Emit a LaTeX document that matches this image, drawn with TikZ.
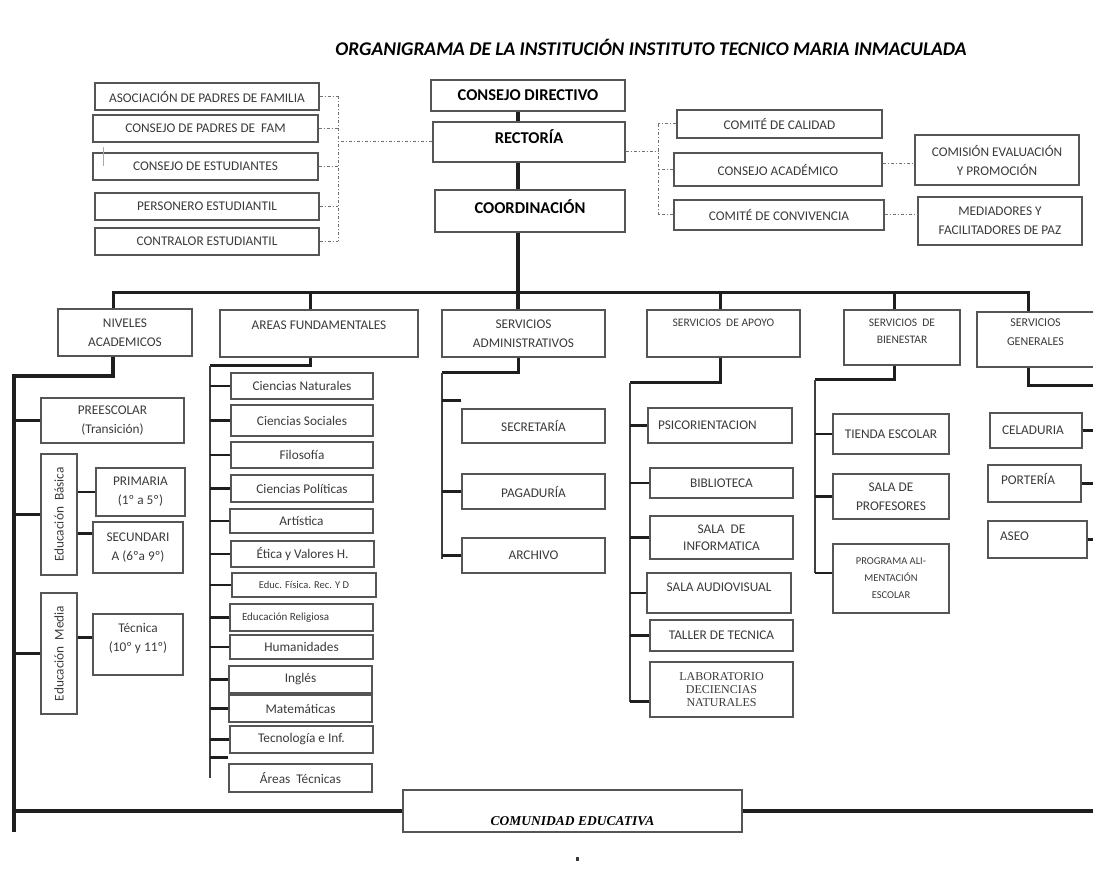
\documentclass[tikz,border=0pt]{standalone}
\usepackage{fontspec}
\setmainfont{Carlito}
\newfontfamily\oldserif{Liberation Serif}
\usepackage{xcolor}
\definecolor{InkGray}{HTML}{3A3A3A}
\definecolor{FrameGray}{HTML}{555555}
\definecolor{LineBlack}{HTML}{1E1E1E}
\usepackage{tikz}
\newcommand{\setsz}[2]{\fontsize{#1}{#2}\selectfont}
% box from its corners (x1,y1) (x2,y2)
\newcommand{\orgnode}[7][]{%
	\node[orgbox,#1,minimum width={(#5)-(#3)},minimum height={(#6)-(#4)}] (#2) at ({((#3)+(#5))/2},{((#4)+(#6))/2}) {#7};}
\tikzset{
	orgbox/.style={draw=FrameGray,line width=1.3pt,rectangle,inner sep=1pt,align=center,text=InkGray,font=\setsz{13.3}{19}},
	headbox/.style={font=\setsz{16.5}{19}\bfseries,text=black},
	mainline/.style={LineBlack,line width=3.5pt},
	bus/.style={LineBlack,line width=3pt},
	trunkline/.style={LineBlack,line width=3.8pt},
	stubline/.style={LineBlack,line width=2.4pt},
	thinline/.style={LineBlack!85,line width=1.4pt},
	linkline/.style={gray!90!black,line width=1pt,dash pattern=on 3pt off 2pt on 1pt off 2pt},
	floorline/.style={LineBlack,line width=4.5pt}
}

\begin{document}
\begin{tikzpicture}[x=1pt,y=-1pt]
	\useasboundingbox (0,0) rectangle (1093,882);
	
	\node[font=\setsz{19.4}{22}\bfseries\itshape,text=black] (title) at (651,47) {ORGANIGRAMA DE LA INSTITUCIÓN INSTITUTO TECNICO MARIA INMACULADA};
	
	% direccion
	\orgnode[headbox]{cd}{431}{80}{625}{111}{CONSEJO DIRECTIVO}
	\orgnode[headbox]{rect}{433}{122}{625}{162}{\raisebox{10pt}{RECTORÍA}}
	\orgnode[headbox]{coord}{435}{190}{625}{232}{\raisebox{8pt}{COORDINACIÓN}}
	\draw[mainline] ([xshift=-10pt]cd.south) -- ([xshift=-11pt]rect.north);
	\draw[mainline] ([xshift=-11pt]rect.south) -- ([xshift=-12pt]coord.north);
	
	% organos de participacion
	\orgnode{asoc}{95}{83}{319}{110}{ASOCIACIÓN DE PADRES DE FAMILIA}
	\orgnode{cpf}{93}{115}{318}{142}{CONSEJO DE PADRES DE\ \ FAM}
	\orgnode{cest}{93}{153}{318}{180}{CONSEJO DE ESTUDIANTES}
	\orgnode{pers}{95}{193}{319}{220}{PERSONERO ESTUDIANTIL}
	\orgnode{contr}{95}{228}{319}{255}{CONTRALOR ESTUDIANTIL}
	\draw[FrameGray!50,line width=0.8pt] ([xshift=11pt,yshift=5pt]cest.north west) -- ++(0,19);
	\coordinate (lv) at (338,142);
	\foreach \n in {asoc,cpf,cest,pers,contr}
		\draw[linkline] (\n.east) -- (\n.east -| lv);
	\draw[linkline] (asoc.east -| lv) -- (contr.east -| lv);
	\draw[linkline] (rect.west) -- (lv);
	
	% comites
	\orgnode{cal}{677}{110}{882}{138}{COMITÉ DE CALIDAD}
	\orgnode{acad}{674}{153}{882}{186}{CONSEJO ACADÉMICO}
	\orgnode{conv}{674}{200}{884}{230}{COMITÉ DE CONVIVENCIA}
	\orgnode{comi}{915}{135}{1079}{185}{COMISIÓN EVALUACIÓN\\Y PROMOCIÓN}
	\orgnode{med}{918}{197}{1082}{245}{MEDIADORES Y\\FACILITADORES DE PAZ}
	\coordinate (rv) at (658,152);
	\draw[linkline] ([yshift=-10pt]rect.east) -- (rv);
	\foreach \n in {cal,acad,conv}
		\draw[linkline] (\n.west) -- (\n.west -| rv);
	\draw[linkline] (cal.west -| rv) -- (conv.west -| rv);
	\draw[linkline] ([yshift=6pt]acad.east) -- ([yshift=6pt]acad.east -| comi.west);
	\draw[linkline] (conv.east) -- (conv.east -| med.west);
	
	% segundo nivel
	\orgnode{niv}{58}{309}{192}{356}{NIVELES\\ACADEMICOS}
	\orgnode{areas}{220}{310}{418}{357}{AREAS FUNDAMENTALES\\[-2pt]\mbox{}}
	\orgnode{sadm}{442}{310}{605}{357}{SERVICIOS\\ADMINISTRATIVOS}
	\orgnode[font=\setsz{11.5}{19}]{sapo}{647}{310}{800}{357}{SERVICIOS\ \ DE APOYO\\[2pt]\mbox{}}
	\orgnode[font=\setsz{11.5}{17}]{sbie}{844}{310}{960}{365}{SERVICIOS\ \ DE\\BIENESTAR\\[-4pt]\mbox{}}
	\orgnode[font=\setsz{12}{19}]{sgen}{977}{312}{1094}{367}{SERVICIOS\\GENERALES\\[-4pt]\mbox{}}
	\draw[mainline] ([xshift=-12pt]coord.south) -- ([xshift=-5.5pt]sadm.north);
	\draw[bus] ([xshift=-12pt]niv.north) -- ++(0,-16) -| ([xshift=-7.5pt]sgen.north);
	\foreach \n/\dx in {areas/-9,sapo/-3.5,sbie/-8}
		\draw[bus] ([xshift=\dx pt]\n.north) -- ++(0,-17.5);
	
	% niveles academicos
	\coordinate (lbot) at (14,832);
	\draw[trunkline] ([xshift=-12pt]niv.south) -- ++(0,19) -| (lbot);
	\orgnode{prees}{41}{398}{184}{443}{PREESCOLAR\\(Transición)}
	\orgnode{basica}{41}{454}{77}{575}{\rotatebox{90}{Educación\ \ Básica}}
	\orgnode{prim}{96}{468}{185}{516}{PRIMARIA\\(1º a 5º)}
	\orgnode{secu}{93}{522}{183}{573}{SECUNDARI\\A (6ºa 9º)}
	\orgnode{media}{41}{593}{77}{714}{\rotatebox{90}{Educación\ \ Media}}
	\orgnode{tecm}{93}{614}{183}{675}{Técnica\\(10º y 11º)\\[-5pt]\mbox{}}
	\foreach \n in {prees,basica,media}
		\draw[stubline] (\n.west) -- (\n.west -| lbot);
	\draw[stubline] (prim.west) -- (prim.west -| basica.east);
	\draw[stubline] ([yshift=14pt]secu.west) -- ([yshift=14pt]secu.west -| basica.east);
	\draw[stubline] ([yshift=7pt]tecm.west) -- ([yshift=7pt]tecm.west -| media.east);
	
	% areas fundamentales
	\coordinate (atop) at (210,366);
	\coordinate (abot) at (210,778);
	\draw[bus] ([xshift=-9pt]areas.south) |- (atop);
	\draw[thinline] (atop) -- (abot);
	\orgnode{cnat}{231}{373}{373}{399}{Ciencias Naturales}
	\orgnode{csoc}{231}{405}{373}{436}{Ciencias Sociales}
	\orgnode{filo}{231}{442}{373}{468}{Filosofía}
	\orgnode{cpol}{231}{475}{373}{502}{Ciencias Políticas}
	\orgnode{arti}{230}{509}{373}{533}{Artística}
	\orgnode{etic}{231}{541}{374}{567}{Ética y Valores H.}
	\orgnode[font=\setsz{10.5}{13}]{educ}{232}{573}{376}{597}{Educ. Física. Rec. Y D}
	\orgnode[font=\setsz{11}{13}]{reli}{230}{604}{373}{631}{\makebox[141pt][l]{\hspace*{11pt}Educación Religiosa}}
	\orgnode{huma}{230}{635}{373}{659}{Humanidades}
	\orgnode{ingl}{229}{666}{372}{693}{Inglés}
	\orgnode{mate}{229}{695}{372}{722}{Matemáticas}
	\orgnode{tecn}{230}{726}{373}{753}{Tecnología e Inf.}
	\orgnode{atec}{229}{764}{372}{792}{Áreas\ \ Técnicas}
	\foreach \n in {cnat,csoc,filo,cpol,arti,etic,educ,reli,huma,ingl,mate,tecn}
		\draw[stubline] (\n.west) -- (\n.west -| abot);
	\draw[stubline] ([yshift=6pt]atec.north west) -- ([yshift=6pt]atec.north west -| abot);
	
	% servicios administrativos
	\coordinate (dtop) at (442,373);
	\coordinate (dbot) at (442,559);
	\draw[bus] ([xshift=-5.5pt]sadm.south) |- (dtop);
	\draw[thinline] (dtop) -- (dbot);
	\orgnode{secr}{462}{409}{605}{443}{SECRETARÍA}
	\orgnode{paga}{462}{474}{605}{509}{PAGADURÍA}
	\orgnode{arch}{462}{538}{605}{573}{ARCHIVO}
	\draw[stubline] ([yshift=8pt]secr.north west) -- ([yshift=8pt]secr.north west -| dbot);
	\foreach \n in {paga,arch}
		\draw[stubline] (\n.west) -- (\n.west -| dbot);
	
	% servicios de apoyo
	\coordinate (ptop) at (630,383);
	\coordinate (pbot) at (630,702);
	\draw[bus] ([xshift=-3.5pt]sapo.south) |- (ptop);
	\draw[thinline] (ptop) -- (pbot);
	\orgnode{psic}{648}{408}{792}{443}{\makebox[142pt][l]{\hspace*{9pt}PSICORIENTACION}}
	\orgnode{bibl}{650}{468}{793}{498}{BIBLIOTECA}
	\orgnode[font=\setsz{13.3}{17}]{sinf}{650}{516}{793}{559}{SALA\ \ DE\\INFORMATICA}
	\orgnode{saud}{647}{573}{791}{613}{\raisebox{12pt}{SALA AUDIOVISUAL}}
	\orgnode{tall}{650}{620}{793}{651}{TALLER DE TECNICA}
	\orgnode[font=\setsz{12}{13}\oldserif]{labo}{650}{662}{793}{717}{LABORATORIO\\DECIENCIAS\\NATURALES}
	\foreach \n in {psic,bibl,sinf,saud,tall}
		\draw[stubline] (\n.west) -- (\n.west -| pbot);
	\draw[stubline] ([yshift=-12pt]labo.west) -- ([yshift=-12pt]labo.west -| pbot);
	
	% servicios de bienestar
	\coordinate (btop) at (815,380);
	\coordinate (bbot) at (815,573);
	\draw[bus] ([xshift=-8pt]sbie.south) |- (btop);
	\draw[thinline] (btop) -- (bbot);
	\orgnode{tien}{833}{414}{949}{454}{TIENDA ESCOLAR}
	\orgnode{sprof}{833}{474}{949}{519}{SALA DE\\PROFESORES}
	\orgnode[font=\setsz{10.5}{17}]{prog}{833}{544}{949}{613}{PROGRAMA ALI-\\MENTACIÓN\\ESCOLAR}
	\foreach \n in {tien,sprof}
		\draw[stubline] (\n.west) -- (\n.west -| bbot);
	\draw[stubline] ([yshift=5.5pt]prog.west) -- ([yshift=5.5pt]prog.west -| bbot);
	
	% servicios generales
	\coordinate (gtop) at (1093,386);
	\draw[bus] ([xshift=-7.5pt]sgen.south) |- (gtop);
	\orgnode{cela}{990}{413}{1082}{448}{\makebox[90pt][l]{\hspace*{11pt}CELADURIA}}
	\orgnode{port}{988}{465}{1081}{502}{\raisebox{9pt}{\makebox[91pt][l]{\hspace*{12pt}PORTERÍA}}}
	\orgnode{aseo}{988}{521}{1087}{558}{\raisebox{7pt}{\makebox[97pt][l]{\hspace*{11pt}ASEO}}}
	\foreach \n in {cela,port,aseo}
		\draw[stubline] (\n.east) -- (\n.east -| gtop);
	
	% comunidad educativa
	\orgnode[font=\setsz{13.5}{16}\oldserif\bfseries\itshape,text=black]{com}{403}{790}{742}{832}{\mbox{}\\[14pt]COMUNIDAD EDUCATIVA}
	\draw[floorline] (com.west) -- (com.west -| lbot);
	\draw[floorline] (com.east) -- (com.east -| gtop);
	\fill[InkGray] (575.5,857) rectangle (578.5,861);
	
\end{tikzpicture}
\end{document}
